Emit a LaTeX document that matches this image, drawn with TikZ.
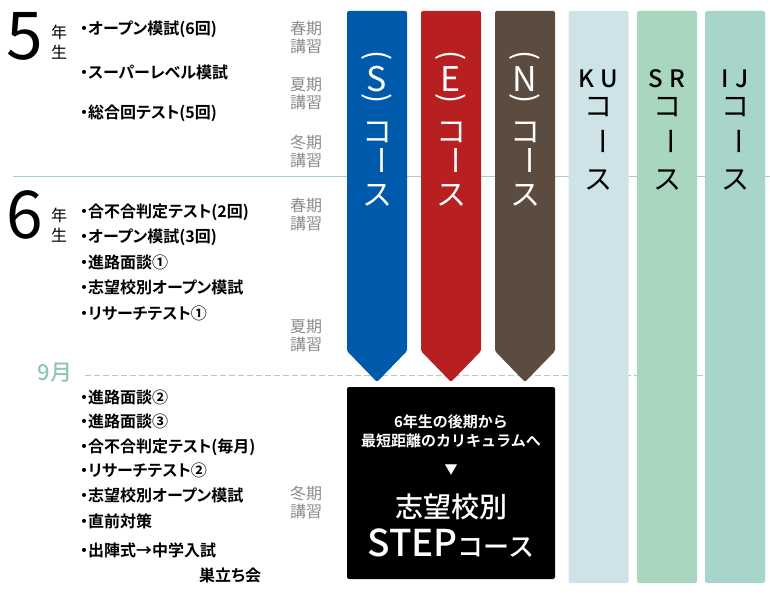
\documentclass[tikz,border=0pt]{standalone}
\usepackage{fontspec}
\setmainfont{Noto Sans CJK JP}[BoldFont={Noto Sans CJK JP Bold}]
\newfontfamily\palt{Noto Sans CJK JP Bold}[RawFeature=+palt]
\newfontfamily\medium{Noto Sans CJK JP Medium}
\usepackage{graphicx}
\usetikzlibrary{positioning}

\definecolor{sblue}{HTML}{005AAB}
\definecolor{ered}{HTML}{B71F20}
\definecolor{nbrown}{HTML}{5C4B3F}
\definecolor{kublue}{HTML}{CEE3E8}
\definecolor{srgreen}{HTML}{A9D6BF}
\definecolor{ijgreen}{HTML}{A8D5CB}
\definecolor{rulecol}{HTML}{A8CFC5}
\definecolor{monthcol}{HTML}{8EC6B6}
\definecolor{seasongray}{HTML}{8A8A8A}

\begin{document}
\begin{tikzpicture}[x=1pt,y=-1pt,
		item/.style={anchor=west, inner sep=0pt, text height=13pt, text depth=2pt, font=\palt\fontsize{16}{16}\selectfont},
		season/.style={align=center, inner sep=0pt, text=seasongray, font=\fontsize{16}{18}\selectfont},
		grade/.style={inner sep=0pt, font=\fontsize{66}{66}\selectfont},
		gradesub/.style={align=center, inner sep=0pt, font=\fontsize{16}{20}\selectfont},
		vchar/.style={inner sep=0pt, font=\fontsize{30}{30}\selectfont},
		lchar/.style={inner sep=0pt, font=\fontsize{28}{28}\selectfont},
		boxtext/.style={inner sep=0pt, text=white, align=center},
		]
		\useasboundingbox (0,0) rectangle (770,601);
		
		%Rules
		\coordinate (rule1a) at (13,177);
		\coordinate (rule1b) at (770,177);
		\coordinate (rule2a) at (85,375);
		\coordinate (rule2b) at (705,375);
		\draw[rulecol, line width=1pt] (rule1a) -- (rule1b);
		\draw[rulecol, line width=1pt, dash pattern=on 6pt off 3pt] (rule2a) -- (rule2b);
		
		%Courses with arrow tips
		\foreach \nm/\cx/\col/\ltr in {scourse/377/sblue/S, ecourse/451/ered/E, ncourse/525/nbrown/N}{
			\fill[\col, rounded corners=1.5pt] (\cx-30,11) -- (\cx+30,11) -- (\cx+30,351) -- (\cx,382) -- (\cx-30,351) -- cycle;
			\node[vchar, text=white] (\nm-po) at (\cx,56) {\rotatebox{-90}{(}};
			\node[vchar, text=white, font=\fontsize{34}{34}\selectfont] (\nm-ltr) at (\cx,79) {\ltr};
			\node[vchar, text=white] (\nm-pc) at (\cx,99) {\rotatebox{-90}{)}};
			\node[vchar, text=white] (\nm-ko) at (\cx,132) {コ};
			\node[vchar, text=white] (\nm-bar) at (\cx,161) {\rotatebox{-90}{ー}};
			\node[vchar, text=white] (\nm-su) at (\cx,195) {ス};
		}
		
		%Courses to the end
		\foreach \nm/\cx/\col/\ltra/\ltrb in {kucourse/598.5/kublue/K/U, srcourse/667/srgreen/S/R, ijcourse/735/ijgreen/I/J}{
			\fill[\col, rounded corners=1.5pt] (\cx-30,11) rectangle (\cx+30,583);
			\node[lchar, font=\medium\fontsize{24}{24}\selectfont] (\nm-ltr) at (\cx,79) {\ltra\hspace{6pt}\ltrb};
			\node[lchar] (\nm-ko) at (\cx,107) {コ};
			\node[lchar] (\nm-bar) at (\cx,142) {\rotatebox{-90}{ー}};
			\node[lchar] (\nm-su) at (\cx,180) {ス};
		}
		
		%STEP box
		\node[fill=black, rounded corners=2pt, minimum width=208pt, minimum height=192pt, inner sep=0pt] (stepbox) at (451,483) {};
		\node[boxtext, font=\bfseries\fontsize{15}{19}\selectfont] (steplead) at (451,431) {6年生の後期から\\最短距離のカリキュラムへ};
		\node[boxtext, font=\fontsize{13}{13}\selectfont] (steptri) at (451,470) {▼};
		\node[boxtext, font=\medium\fontsize{28}{28}\selectfont] (stepname) at (451,507) {志望校別};
		\node[boxtext, anchor=base] (stepcourse) at (451,556) {\medium\fontsize{37}{37}\selectfont STEP\fontsize{26}{26}\selectfont コース};
		
		%Grade 5
		\node[grade] (g5) at (25,36) {5};
		\node[gradesub] (g5sub) at (59,42) {年\\生};
		\node[item] (g5a) at (80,29) {・オープン模試(6回)};
		\node[item] (g5b) at (80,73) {・スーパーレベル模試};
		\node[item] (g5c) at (80,113) {・総合回テスト(5回)};
		\node[season] (g5spring) at (306,37) {春期\\講習};
		\node[season] (g5summer) at (306,94) {夏期\\講習};
		\node[season] (g5winter) at (306,151) {冬期\\講習};
		
		%Grade 6
		\node[grade] (g6) at (25,215) {6};
		\node[gradesub] (g6sub) at (59,225) {年\\生};
		\node[item] (g6a) at (80,212) {・合不合判定テスト(2回)};
		\node[item] (g6b) [below=10pt of g6a.south west, anchor=north west] {・オープン模試(3回)};
		\node[item] (g6c) [below=10pt of g6b.south west, anchor=north west] {・進路面談①};
		\node[item] (g6d) [below=10pt of g6c.south west, anchor=north west] {・志望校別オープン模試};
		\node[item] (g6e) [below=10pt of g6d.south west, anchor=north west] {・リサーチテスト①};
		\node[season] (g6spring) at (306,214) {春期\\講習};
		\node[season] (g6summer) at (306,336) {夏期\\講習};
		
		%From September
		\node[inner sep=0pt, text=monthcol, font=\medium\fontsize{22}{22}\selectfont] (sept) at (55,373) {9月};
		\node[item] (s1) at (80,398) {・進路面談②};
		\node[item] (s2) [below=9pt of s1.south west, anchor=north west] {・進路面談③};
		\node[item] (s3) [below=9pt of s2.south west, anchor=north west] {・合不合判定テスト(毎月)};
		\node[item] (s4) [below=9pt of s3.south west, anchor=north west] {・リサーチテスト②};
		\node[item] (s5) [below=9pt of s4.south west, anchor=north west] {・志望校別オープン模試};
		\node[item] (s6) at (80,522) {・直前対策};
		\node[item] (s7) at (80,551) {・出陣式→中学入試};
		\node[item] (s8) at (199,576) {巣立ち会};
		\node[season] (g6winter) at (306,502) {冬期\\講習};
\end{tikzpicture}
\end{document}
